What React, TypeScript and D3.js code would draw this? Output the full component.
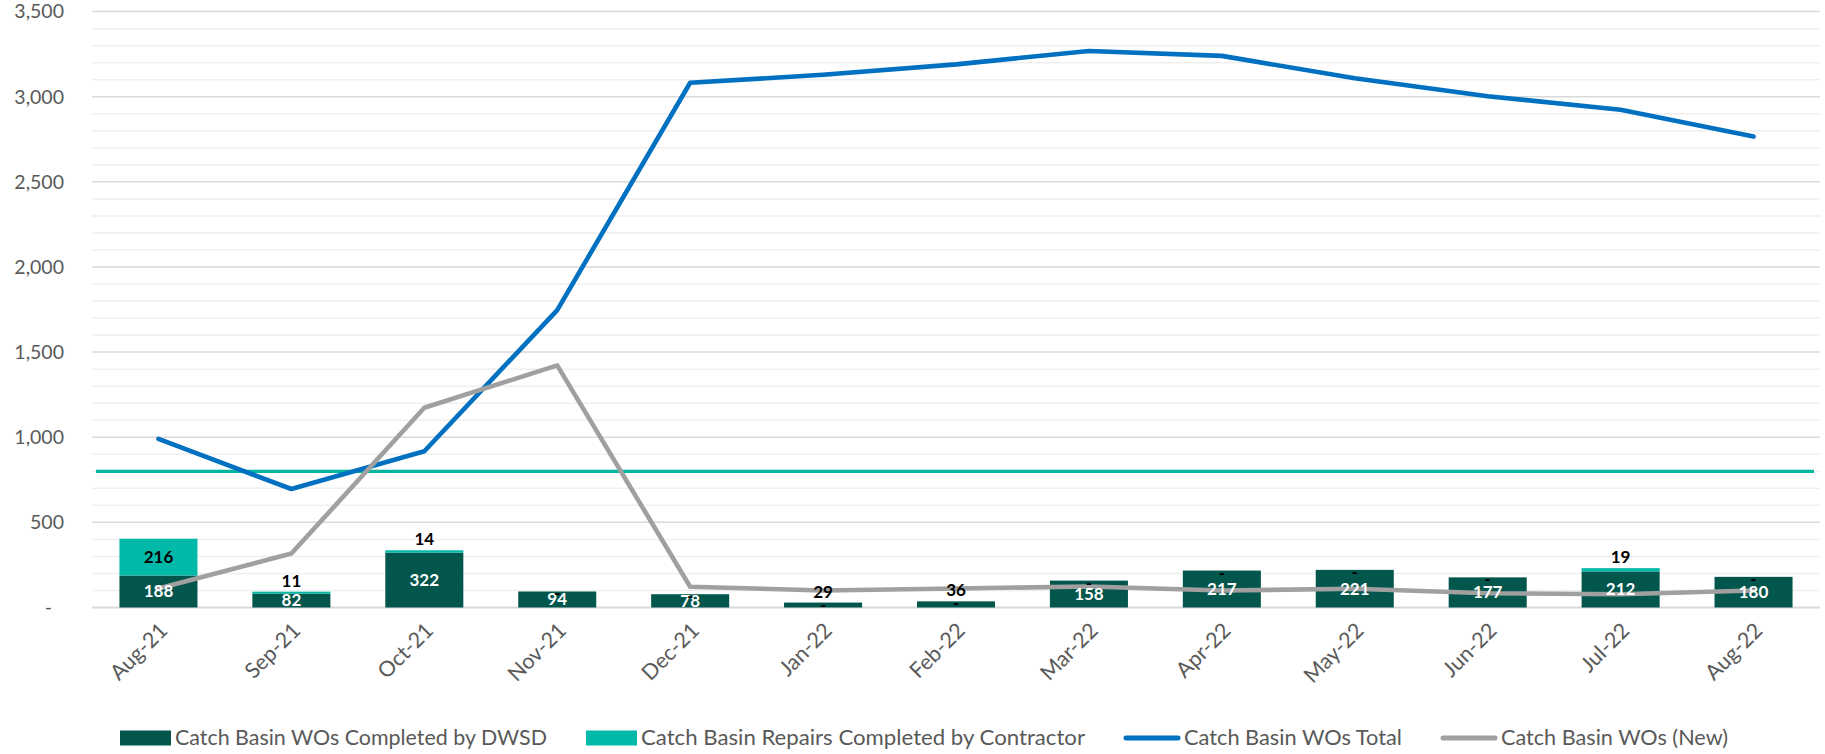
import React from "react";
import * as d3 from "d3";

// Monthly catch basin work-order figures
const months = [
  "Aug-21", "Sep-21", "Oct-21", "Nov-21", "Dec-21", "Jan-22", "Feb-22",
  "Mar-22", "Apr-22", "May-22", "Jun-22", "Jul-22", "Aug-22",
];
const dwsdCompleted = [188, 82, 322, 94, 78, 29, 36, 158, 217, 221, 177, 212, 180];
const contractorRepairs = [216, 11, 14, 0, 0, 0, 0, 0, 0, 0, 0, 19, 0];
const totalWOs = [990, 696, 918, 1747, 3082, 3129, 3190, 3269, 3240, 3108, 3003, 2924, 2766];
const newWOs = [112, 317, 1173, 1422, 122, 100, 112, 123, 100, 110, 84, 78, 100];
const targetLevel = 800;
const yTicks = [0, 500, 1000, 1500, 2000, 2500, 3000, 3500];

const seriesNames = [
  "Catch Basin WOs Completed by DWSD",
  "Catch Basin Repairs Completed by Contractor",
  "Catch Basin WOs Total",
  "Catch Basin WOs (New)",
];

const W = 1825;
const H = 754;
const plot = { left: 92, right: 1820, top: 11.6, bottom: 607.5 };

const C = {
  dwsd: "#03564C",
  contractor: "#00B9A8",
  total: "#0070C0",
  fresh: "#A0A0A0",
  target: "#00B5A0",
  gridMajor: "#D9D9D9",
  gridMinor: "#EFEFEF",
  text: "#595959",
};
const FONT = "Lato, 'Open Sans', sans-serif";

export default function App() {
  const x = d3
    .scaleBand<string>()
    .domain(months)
    .range([plot.left, plot.right])
    .paddingInner(0.413)
    .paddingOuter(0.2065);
  const y = d3.scaleLinear().domain([0, 3500]).range([plot.bottom, plot.top]);
  const cx = (m: string) => (x(m) as number) + x.bandwidth() / 2;

  const minorTicks = d3.range(0, 3501, 100).filter((v) => v % 500 !== 0);
  const fmt = d3.format(",");

  const lineGen = d3
    .line<number>()
    .x((_, i) => cx(months[i]))
    .y((v) => y(v));

  // legend layout
  const legendY = 738;
  const legendItems = [
    { name: seriesNames[0], kind: "box", color: C.dwsd, textW: 372 },
    { name: seriesNames[1], kind: "box", color: C.contractor, textW: 444 },
    { name: seriesNames[2], kind: "line", color: C.total, textW: 218 },
    { name: seriesNames[3], kind: "line", color: C.fresh, textW: 227 },
  ];
  let lx = 120;
  const legendPos = legendItems.map((it) => {
    const sw = it.kind === "box" ? 51 : 56;
    const p = { ...it, x: lx, sw };
    lx += sw + 4 + it.textW + 39;
    return p;
  });

  return (
    <svg
      width={W}
      height={H}
      viewBox={`0 0 ${W} ${H}`}
      style={{ position: "fixed", left: 0, top: 0, background: "#fff" }}
    >
      {/* minor gridlines */}
      {minorTicks.map((t) => (
        <line
          key={"mi" + t}
          x1={plot.left}
          x2={plot.right}
          y1={y(t)}
          y2={y(t)}
          stroke={C.gridMinor}
          strokeWidth={1.5}
        />
      ))}
      {/* major gridlines */}
      {yTicks.map((t) => (
        <line
          key={"ma" + t}
          x1={plot.left}
          x2={plot.right}
          y1={y(t)}
          y2={y(t)}
          stroke={C.gridMajor}
          strokeWidth={t === 0 ? 2 : 1.5}
        />
      ))}
      {/* y axis labels */}
      {yTicks.map((t) => (
        <text
          key={"yl" + t}
          x={t === 0 ? 52 : 64}
          y={y(t)}
          dy="0.35em"
          textAnchor="end"
          fontFamily={FONT}
          fontSize={19.5}
          fill={C.text}
        >
          {t === 0 ? "-" : fmt(t)}
        </text>
      ))}

      {/* stacked bars */}
      {months.map((m, i) => {
        const bx = x(m) as number;
        const d = dwsdCompleted[i];
        const c = contractorRepairs[i];
        return (
          <g key={"b" + m}>
            <rect x={bx} width={x.bandwidth()} y={y(d)} height={y(0) - y(d)} fill={C.dwsd} />
            {c > 0 && (
              <rect
                x={bx}
                width={x.bandwidth()}
                y={y(d + c)}
                height={y(d) - y(d + c)}
                fill={C.contractor}
              />
            )}
          </g>
        );
      })}

      {/* target line */}
      <line
        x1={plot.left + 4}
        x2={plot.right - 6}
        y1={y(targetLevel)}
        y2={y(targetLevel)}
        stroke={C.target}
        strokeWidth={3.2}
      />

      {/* lines */}
      <path
        d={lineGen(totalWOs) as string}
        fill="none"
        stroke={C.total}
        strokeWidth={4.6}
        strokeLinecap="round"
        strokeLinejoin="round"
      />
      <path
        d={lineGen(newWOs) as string}
        fill="none"
        stroke={C.fresh}
        strokeWidth={4.6}
        strokeLinecap="round"
        strokeLinejoin="round"
      />

      {/* data labels */}
      {months.map((m, i) => {
        const mx = cx(m);
        const d = dwsdCompleted[i];
        const c = contractorRepairs[i];
        const top = y(d + c);
        const labels: React.ReactNode[] = [];
        // DWSD segment
        if (d >= 50) {
          labels.push(
            <text key="d" x={mx} y={(y(0) + y(d)) / 2} dy="0.35em" textAnchor="middle" fill="#fff">
              {fmt(d)}
            </text>
          );
        } else {
          labels.push(
            <text key="d" x={mx} y={top - 11} dy="0.35em" textAnchor="middle" fill="#000">
              {fmt(d)}
            </text>
          );
        }
        // contractor segment
        if (c >= 50) {
          labels.push(
            <text key="c" x={mx} y={(y(d) + y(d + c)) / 2} dy="0.35em" textAnchor="middle" fill="#000">
              {fmt(c)}
            </text>
          );
        } else if (c > 0) {
          labels.push(
            <text key="c" x={mx} y={top - 11} dy="0.35em" textAnchor="middle" fill="#000">
              {fmt(c)}
            </text>
          );
        } else {
          labels.push(
            <text key="c" x={mx} y={top + 2} dy="0.35em" textAnchor="middle" fill="#000">
              -
            </text>
          );
        }
        return (
          <g key={"l" + m} fontFamily={FONT} fontSize={17} fontWeight="bold">
            {labels}
          </g>
        );
      })}

      {/* x axis labels */}
      {months.map((m) => (
        <text
          key={"xl" + m}
          transform={`translate(${cx(m) + 5},${plot.bottom + 19}) rotate(-45)`}
          textAnchor="end"
          dy="0.35em"
          fontFamily={FONT}
          fontSize={21.5}
          fill={C.text}
        >
          {m}
        </text>
      ))}

      {/* legend */}
      {legendPos.map((it) => (
        <g key={it.name}>
          {it.kind === "box" ? (
            <rect x={it.x} y={legendY - 7.5} width={it.sw} height={15} fill={it.color} />
          ) : (
            <line
              x1={it.x + 2}
              x2={it.x + it.sw - 2}
              y1={legendY}
              y2={legendY}
              stroke={it.color}
              strokeWidth={5}
              strokeLinecap="round"
            />
          )}
          <text
            x={it.x + it.sw + 4}
            y={legendY}
            dy="0.35em"
            fontFamily={FONT}
            fontSize={21}
            fill={C.text}
            textLength={it.textW}
            lengthAdjust="spacingAndGlyphs"
          >
            {it.name}
          </text>
        </g>
      ))}
    </svg>
  );
}
